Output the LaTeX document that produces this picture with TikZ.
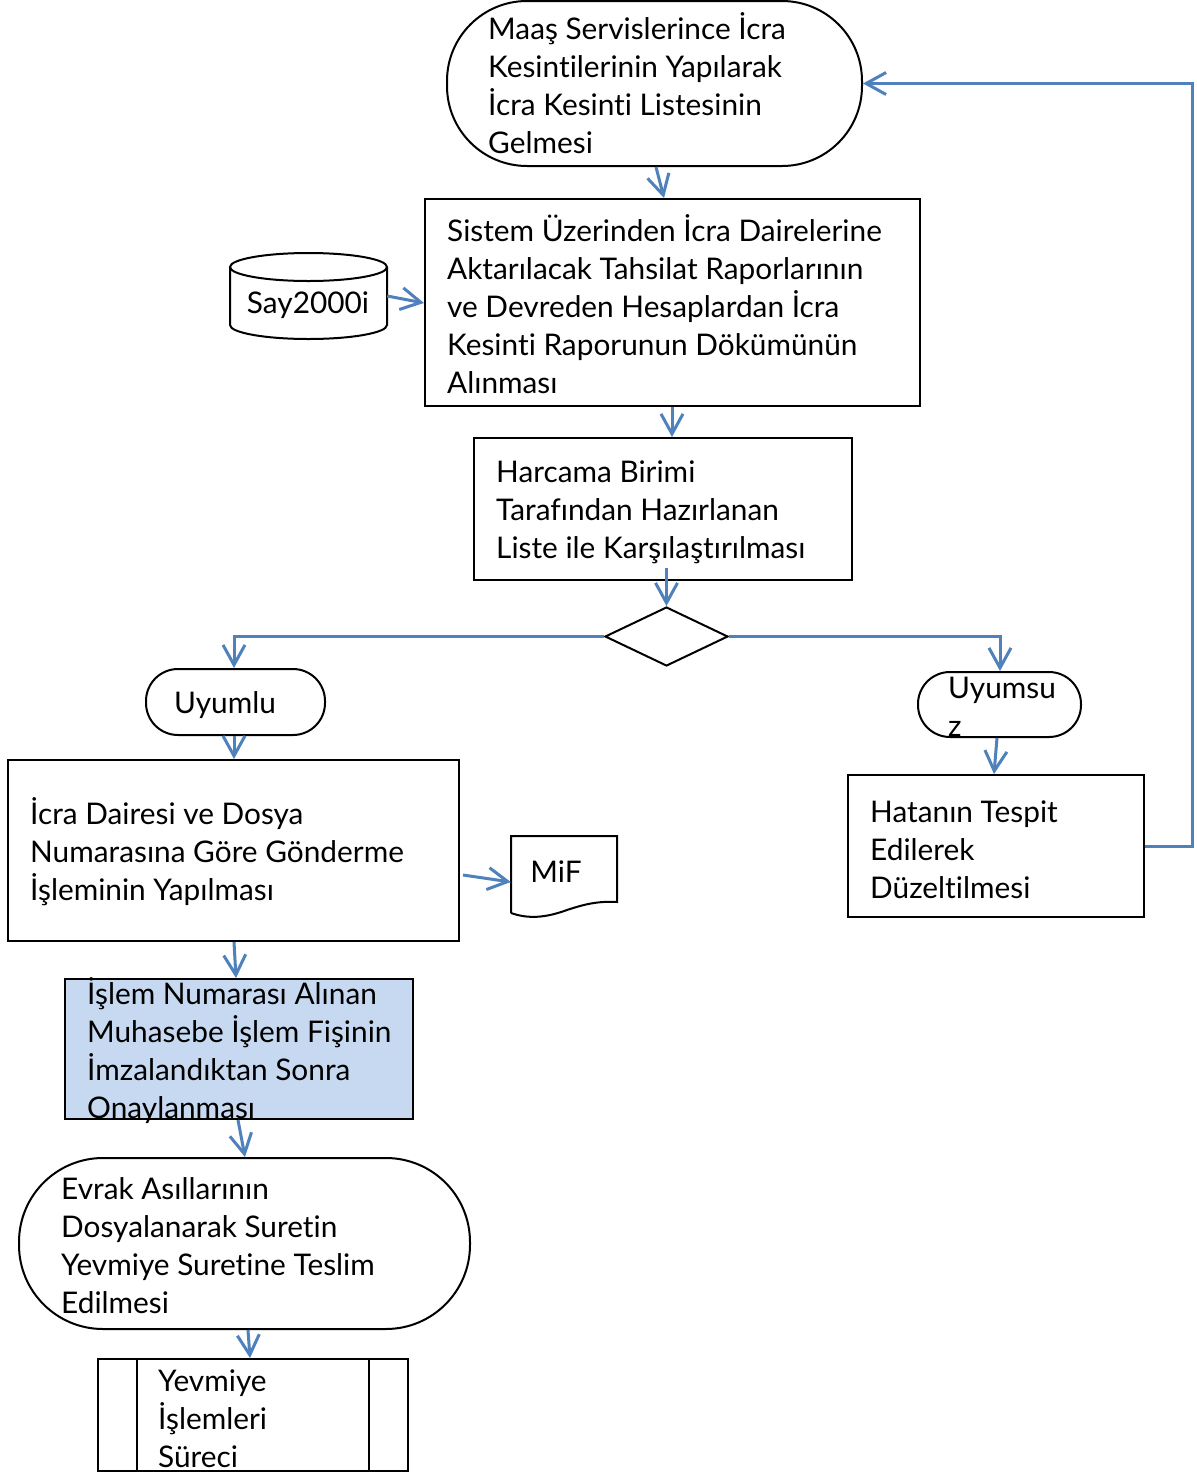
\documentclass[tikz,border=0pt]{standalone}
\usepackage{fontspec}
\setmainfont{Lato}[Ligatures=NoCommon]
\usetikzlibrary{arrows.meta,shapes.geometric}
\definecolor{flowblue}{HTML}{4F81BD}
\definecolor{boxfill}{HTML}{C6D9F1}
\begin{document}
\begin{tikzpicture}[x=1pt,y=-1pt,
  shapebox/.style={draw=black, line width=2pt, inner sep=0pt},
  txt/.style={font=\fontsize{29.8}{38}\selectfont, align=left, anchor=west, inner sep=0pt},
  ctxt/.style={font=\fontsize{29.8}{38}\selectfont, inner sep=0pt},
  conn/.style={draw=flowblue, line width=3pt, -{Straight Barb[length=20pt,width=22pt,line width=3pt]}},
  line/.style={draw=flowblue, line width=3pt}]
\useasboundingbox (0,0) rectangle (1197,1476);
\fill[white] (0,0) rectangle (1197,1476);

% shapes
\node[shapebox, rounded corners=80pt, minimum width=415pt, minimum height=165pt] (term1) at (654.5,83.5) {};
\node[shapebox, minimum width=495pt, minimum height=207pt] (box2) at (672.5,302.5) {};
\node[inner sep=0pt, minimum width=157pt, minimum height=86pt] (cyl) at (308.5,296) {};
\draw[line width=2pt] (230,267) -- (230,325) arc[start angle=180, end angle=360, x radius=78.5, y radius=-14] -- (387,267) arc[start angle=0, end angle=360, x radius=78.5, y radius=-14];
\node[shapebox, minimum width=378pt, minimum height=142pt] (box3) at (663,509) {};
\node[shapebox, diamond, minimum width=123pt, minimum height=59pt] (dia) at (666.5,636.5) {};
\node[shapebox, rounded corners=32pt, minimum width=179pt, minimum height=66pt] (uy1) at (235.5,702) {};
\node[shapebox, rounded corners=32pt, minimum width=163pt, minimum height=65pt] (uy2) at (999.5,704.5) {};
\node[shapebox, minimum width=451pt, minimum height=181pt] (box8) at (233.5,850.5) {};
\node[inner sep=0pt, minimum width=106pt, minimum height=82pt] (mif) at (564,877) {};
\draw[line width=2pt] (511,913) -- (511,836) -- (617,836) -- (617,902)
  .. controls (598,901) and (585,904) .. (567,910)
  .. controls (545,918) and (528,919) .. (511,913);
\node[shapebox, minimum width=296pt, minimum height=142pt] (hata) at (996,846) {};
\node[shapebox, fill=boxfill, minimum width=348pt, minimum height=140pt] (blue) at (239,1049) {};
\node[shapebox, rounded corners=84pt, minimum width=451pt, minimum height=171pt] (evrak) at (244.5,1243.5) {};
\node[shapebox, minimum width=310pt, minimum height=112pt] (yev) at (253,1415) {};
\draw[line width=2pt] (137,1359) -- (137,1471) (369,1359) -- (369,1471);

% texts
\node[txt] (t1) at (488,83) {Maaş Servislerince İcra\\Kesintilerinin Yapılarak\\İcra Kesinti Listesinin\\Gelmesi};
\node[txt] (t2) at (447,304) {Sistem Üzerinden İcra Dairelerine\\Aktarılacak Tahsilat Raporlarının\\ve Devreden Hesaplardan İcra\\Kesinti Raporunun Dökümünün\\Alınması};
\node[ctxt] (tc) at (308,305) {Say2000i};
\node[txt] (t3) at (496,512) {Harcama Birimi\\Tarafından Hazırlanan\\Liste ile Karşılaştırılması};
\node[ctxt] (tu1) at (225,705) {Uyumlu};
\node[txt] (tu2) at (948,707) {Uyumsu\\z};
\node[txt] (t8) at (30,852) {İcra Dairesi ve Dosya\\Numarasına Göre Gönderme\\İşleminin Yapılması};
\node[ctxt] (tm) at (556,872) {MiF};
\node[txt] (th) at (870,850) {Hatanın Tespit\\Edilerek\\Düzeltilmesi};
\node[txt] (tb) at (87,1051) {İşlem Numarası Alınan\\Muhasebe İşlem Fişinin\\İmzalandıktan Sonra\\Onaylanması};
\node[txt] (te) at (61,1246) {Evrak Asıllarının\\Dosyalanarak Suretin\\Yevmiye Suretine Teslim\\Edilmesi};
\node[txt] (ty) at (158,1419) {Yevmiye\\İşlemleri\\Süreci};

% connectors
\draw[conn] (656,0 |- term1.south) -- (664,0 |- box2.north);
\draw[conn] (cyl.east) -- (box2.west |- 0,303);
\draw[conn] (672,0 |- box2.south) -- (672,0 |- box3.north);
\draw[conn] (dia.north |- 0,568) -- (dia.north);
\draw[conn] (dia.west) -- (234,0 |- dia.west) -- (234,0 |- uy1.north);
\draw[conn] (dia.east) -- (1000,0 |- dia.east) -- (1000,0 |- uy2.north);
\draw[conn] (234,0 |- uy1.south) -- (234,0 |- box8.north);
\draw[conn] (997,0 |- uy2.south) -- (994,0 |- hata.north);
\draw[conn] (463,875) -- (mif.west |- 0,882);
\draw[conn] (234,0 |- box8.south) -- (236,0 |- blue.north);
\draw[conn] (238,0 |- blue.south) -- (245,0 |- evrak.north);
\draw[conn] (248,0 |- evrak.south) -- (250,0 |- yev.north);
\draw[conn] (hata.east) -- (1192,0 |- hata.east) -- (1192,0 |- term1.east) -- (term1.east);
\end{tikzpicture}
\end{document}
